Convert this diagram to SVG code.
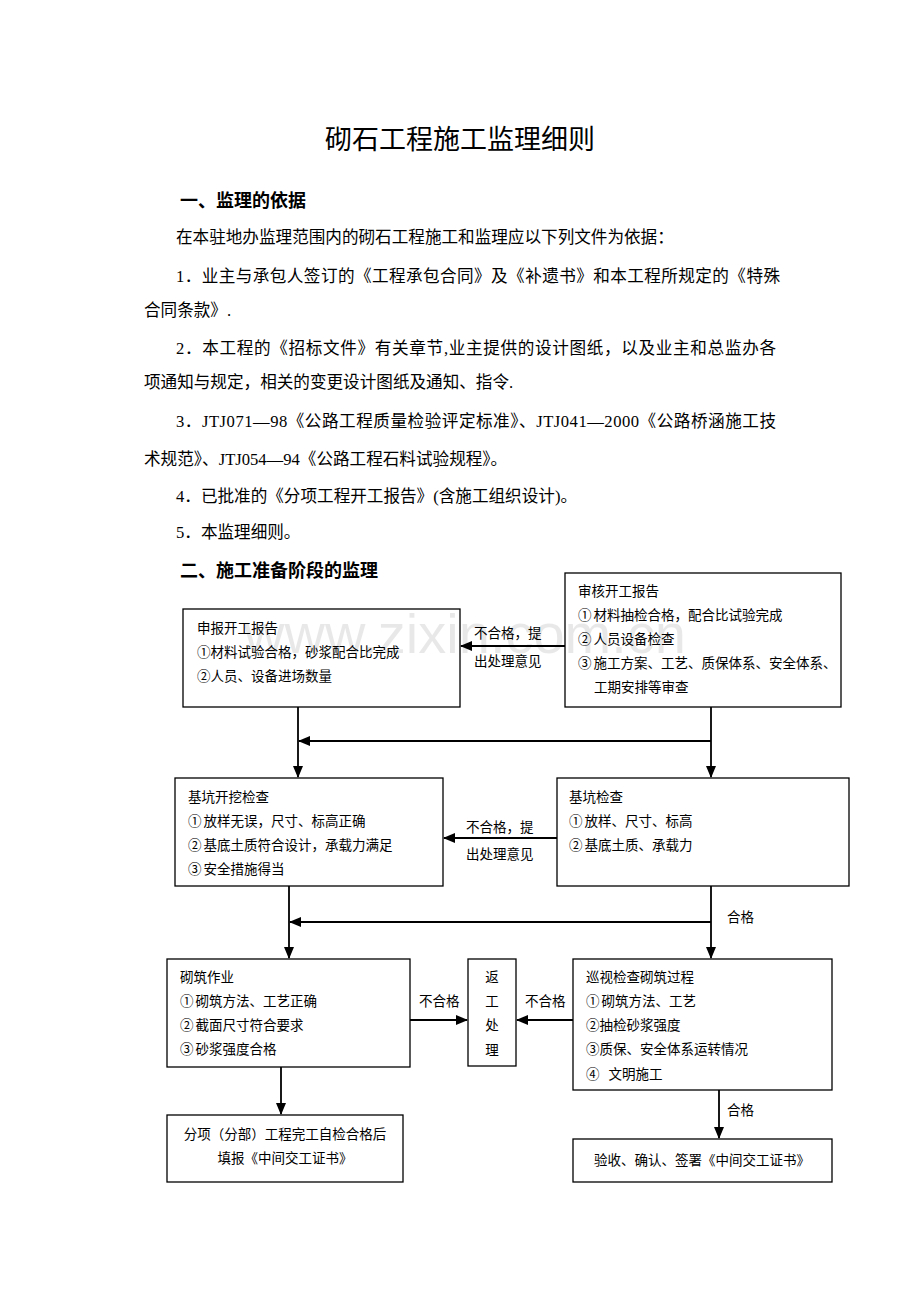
<svg xmlns="http://www.w3.org/2000/svg" width="920" height="1302" viewBox="0 0 920 1302">
<style>
.t{font-family:"Liberation Serif","Noto Sans CJK SC",serif;font-size:16.6px;fill:#000}
.h{font-family:"Noto Sans CJK SC","Liberation Sans",sans-serif;font-size:18px;font-weight:bold;fill:#000}
.b{font-family:"Liberation Serif","Noto Sans CJK SC",serif;font-size:13.5px;fill:#000}
.box{fill:#fff;stroke:#000;stroke-width:1.3}
.c{fill:none;stroke:#000;stroke-width:1.8}
.wm{font-family:"Liberation Sans",sans-serif;font-size:56px;fill:#000;fill-opacity:0.09}
</style>
<defs>
<marker id="ah" markerUnits="userSpaceOnUse" markerWidth="12" markerHeight="10" refX="11" refY="5" orient="auto">
<path d="M0,0 L12,5 L0,10 Z" fill="#000"/>
</marker>
</defs>
<rect width="920" height="1302" fill="#fff"/>
<text x="460" y="149" text-anchor="middle" font-family="Noto Sans CJK SC,sans-serif" font-size="27" fill="#000">砌石工程施工监理细则</text>
<text class="h" x="180" y="207">一、监理的依据</text>
<text class="t" x="176" y="243">在本驻地办监理范围内的砌石工程施工和监理应以下列文件为依据：</text>
<text class="t" x="176" y="282" textLength="604" lengthAdjust="spacing">1．业主与承包人签订的《工程承包合同》及《补遗书》和本工程所规定的《特殊</text>
<text class="t" x="144" y="316">合同条款》.</text>
<text class="t" x="176" y="354" textLength="600" lengthAdjust="spacing">2．本工程的《招标文件》有关章节,业主提供的设计图纸，以及业主和总监办各</text>
<text class="t" x="144" y="388">项通知与规定，相关的变更设计图纸及通知、指令.</text>
<text class="t" x="176" y="427" textLength="600" lengthAdjust="spacing">3．JTJ071—98《公路工程质量检验评定标准》、JTJ041—2000《公路桥涵施工技</text>
<text class="t" x="144" y="465">术规范》、JTJ054—94《公路工程石料试验规程》。</text>
<text class="t" x="176" y="502">4．已批准的《分项工程开工报告》(含施工组织设计)。</text>
<text class="t" x="176" y="538">5．本监理细则。</text>
<text class="h" x="180" y="577">二、施工准备阶段的监理</text>

<g id="connectors">
<line class="c" x1="565" y1="646" x2="461" y2="646" marker-end="url(#ah)"/>
<line class="c" x1="298" y1="707" x2="298" y2="777" marker-end="url(#ah)"/>
<line class="c" x1="711" y1="707" x2="711" y2="777" marker-end="url(#ah)"/>
<line class="c" x1="711" y1="741" x2="299" y2="741" marker-end="url(#ah)"/>
<line class="c" x1="557" y1="838" x2="444" y2="838" marker-end="url(#ah)"/>
<line class="c" x1="289" y1="886" x2="289" y2="958" marker-end="url(#ah)"/>
<line class="c" x1="711" y1="886" x2="711" y2="958" marker-end="url(#ah)"/>
<line class="c" x1="711" y1="922" x2="290" y2="922" marker-end="url(#ah)"/>
<line class="c" x1="410" y1="1020" x2="467" y2="1020" marker-end="url(#ah)"/>
<line class="c" x1="573" y1="1020" x2="517" y2="1020" marker-end="url(#ah)"/>
<line class="c" x1="281" y1="1067" x2="281" y2="1114" marker-end="url(#ah)"/>
<line class="c" x1="719" y1="1090" x2="719" y2="1138" marker-end="url(#ah)"/>
<text class="b" x="474" y="638">不合格，提</text>
<text class="b" x="474" y="666">出处理意见</text>
<text class="b" x="466" y="832">不合格，提</text>
<text class="b" x="466" y="859">出处理意见</text>
<text class="b" x="727" y="922">合格</text>
<text class="b" x="419" y="1006">不合格</text>
<text class="b" x="525" y="1006">不合格</text>
<text class="b" x="727" y="1115">合格</text>
</g>

<g id="n1">
<rect class="box" x="183" y="609" width="277" height="98"/>
<text class="b" x="197" y="633">申报开工报告</text>
<text class="b" x="197" y="657">①材料试验合格，砂浆配合比完成</text>
<text class="b" x="197" y="681">②人员、设备进场数量</text>
</g>
<g id="n2">
<rect class="box" x="565" y="573" width="276" height="134"/>
<text class="b" x="578" y="596">审核开工报告</text>
<text class="b" x="578" y="620">①<tspan dx="2">材料抽检合格，配合比试验完成</tspan></text>
<text class="b" x="578" y="644">②<tspan dx="2">人员设备检查</tspan></text>
<text class="b" x="578" y="668">③<tspan dx="2">施工方案、工艺、质保体系、安全体系、</tspan></text>
<text class="b" x="594" y="692">工期安排等审查</text>
</g>
<g id="n3">
<rect class="box" x="175" y="778" width="268" height="108"/>
<text class="b" x="188" y="802">基坑开挖检查</text>
<text class="b" x="188" y="826">①<tspan dx="2">放样无误，尺寸、标高正确</tspan></text>
<text class="b" x="188" y="850">②<tspan dx="2">基底土质符合设计，承载力满足</tspan></text>
<text class="b" x="188" y="874">③<tspan dx="2">安全措施得当</tspan></text>
</g>
<g id="n4">
<rect class="box" x="557" y="778" width="292" height="108"/>
<text class="b" x="569" y="802">基坑检查</text>
<text class="b" x="569" y="826">①<tspan dx="2">放样、尺寸、标高</tspan></text>
<text class="b" x="569" y="850">②<tspan dx="2">基底土质、承载力</tspan></text>
</g>
<g id="n5">
<rect class="box" x="167" y="959" width="243" height="108"/>
<text class="b" x="180" y="982">砌筑作业</text>
<text class="b" x="180" y="1006">①<tspan dx="2">砌筑方法、工艺正确</tspan></text>
<text class="b" x="180" y="1030">②<tspan dx="2">截面尺寸符合要求</tspan></text>
<text class="b" x="180" y="1054">③<tspan dx="2">砂浆强度合格</tspan></text>
</g>
<g id="n6">
<rect class="box" x="468" y="959" width="48" height="107"/>
<text class="b" x="492" y="982" text-anchor="middle">返</text>
<text class="b" x="492" y="1006" text-anchor="middle">工</text>
<text class="b" x="492" y="1030" text-anchor="middle">处</text>
<text class="b" x="492" y="1055" text-anchor="middle">理</text>
</g>
<g id="n7">
<rect class="box" x="573" y="959" width="259" height="131"/>
<text class="b" x="586" y="982">巡视检查砌筑过程</text>
<text class="b" x="586" y="1006">①<tspan dx="2">砌筑方法、工艺</tspan></text>
<text class="b" x="586" y="1030">②抽检砂浆强度</text>
<text class="b" x="586" y="1054">③质保、安全体系运转情况</text>
<text class="b" x="586" y="1079">④<tspan dx="9">文明施工</tspan></text>
</g>
<g id="n8">
<rect class="box" x="167" y="1115" width="236" height="67"/>
<text class="b" x="285" y="1139" text-anchor="middle">分项（分部）工程完工自检合格后</text>
<text class="b" x="285" y="1163" text-anchor="middle">填报《中间交工证书》</text>
</g>
<g id="n9">
<rect class="box" x="573" y="1139" width="259" height="43"/>
<text class="b" x="702" y="1165" text-anchor="middle">验收、确认、签署《中间交工证书》</text>
</g>
<text class="wm" x="465" y="653" text-anchor="middle">www.zixin.com.cn</text>
</svg>
